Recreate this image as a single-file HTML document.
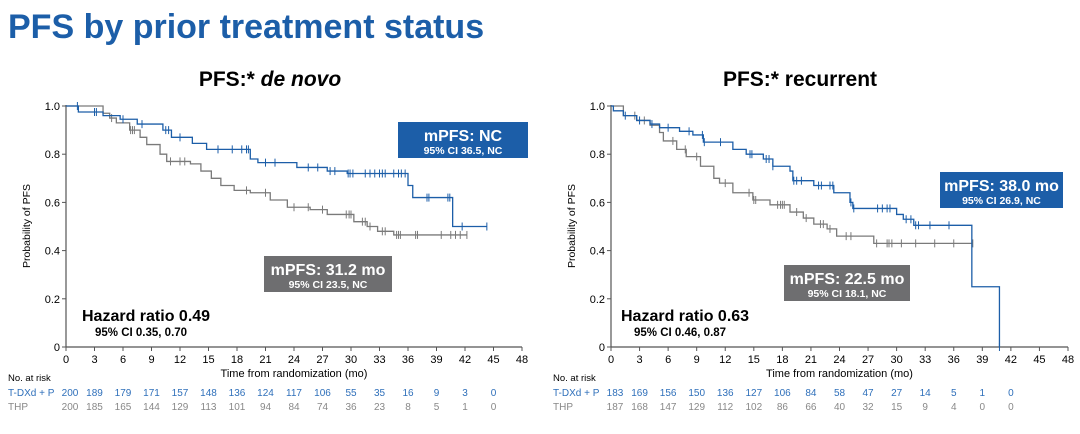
<!DOCTYPE html>
<html><head><meta charset="utf-8"><style>
body{margin:0;background:#fff;width:1080px;height:429px;overflow:hidden;font-family:"Liberation Sans",Arial,sans-serif}
</style></head><body>
<svg id="s" width="1080" height="429" xmlns="http://www.w3.org/2000/svg" font-family="Liberation Sans, Arial, sans-serif">
<text x="8" y="38" font-size="34" font-weight="bold" fill="#1c5ea8">PFS by prior treatment status</text>
<text x="270" y="86" font-size="21" font-weight="bold" text-anchor="middle">PFS:* <tspan font-style="italic">de novo</tspan></text>
<text x="800" y="86" font-size="21" font-weight="bold" text-anchor="middle">PFS:* recurrent</text>
</svg>
<script>
const s=document.getElementById('s');const NS='http://www.w3.org/2000/svg';
function el(t,a,txt){const e=document.createElementNS(NS,t);for(const k in a)e.setAttribute(k,a[k]);if(txt!=null)e.textContent=txt;s.appendChild(e);return e;}
const Y0=347,YS=241;
function chart(x0,x48,risk,blue,gray,bc,gc,boxes,hr,hrx,nax){
 const sx=m=>x0+(x48-x0)*m/48, sy=p=>Y0-YS*p;
 el('text',{x:x0-36,y:226,'font-size':10.5,'text-anchor':'middle',transform:`rotate(-90 ${x0-36} 226)`},'Probability of PFS');
 el('line',{x1:x0,y1:sy(1.0)-1,x2:x0,y2:Y0,stroke:'#555','stroke-width':1.2});
 el('line',{x1:x0,y1:Y0,x2:x48,y2:Y0,stroke:'#555','stroke-width':1.2});
 [0,.2,.4,.6,.8,1].forEach(p=>{el('line',{x1:x0-4,y1:sy(p),x2:x0,y2:sy(p),stroke:'#555'});
  el('text',{x:x0-6,y:sy(p)+4,'font-size':11,'text-anchor':'end'},p==0?'0':p.toFixed(1));});
 for(let m=0;m<=48;m+=3){el('line',{x1:sx(m),y1:Y0,x2:sx(m),y2:Y0+4,stroke:'#555'});
  el('text',{x:sx(m),y:Y0+16,'font-size':11,'text-anchor':'middle'},m);}
 el('text',{x:(x0+x48)/2,y:Y0+30,'font-size':11,'text-anchor':'middle'},'Time from randomization (mo)');
 el('text',{x:nax,y:Y0+34,'font-size':9.5},'No. at risk');
 el('text',{x:nax,y:Y0+49,'font-size':10,fill:'#2e6fba'},'T-DXd + P');
 el('text',{x:nax,y:Y0+63,'font-size':10,fill:'#888'},'THP');
 risk[0].forEach((v,i)=>el('text',{x:sx(i*3)+(i==0?4:0),y:Y0+49,'font-size':10,fill:'#2e6fba','text-anchor':'middle'},v));
 risk[1].forEach((v,i)=>el('text',{x:sx(i*3)+(i==0?4:0),y:Y0+63,'font-size':10,fill:'#888','text-anchor':'middle'},v));
 function curve(pts,end,col,cens){let d=`M${sx(0)},${sy(1)}`;
  pts.forEach(([m,p])=>{d+=` H${sx(m)} V${sy(p)}`;});
  d+=` H${sx(end)}`;
  el('path',{d,fill:'none',stroke:col,'stroke-width':1.3});
  cens.concat([end]).forEach(m=>{let p=1;pts.forEach(([mm,pp])=>{if(mm<=m)p=pp;});
   el('line',{x1:sx(m),y1:sy(p)-4,x2:sx(m),y2:sy(p)+4,stroke:col,'stroke-width':1});});}
 curve(gray[0],gray[1],gc,gray[2]);curve(blue[0],blue[1],bc,blue[2]);
 boxes.forEach(b=>{el('rect',{x:b[0],y:b[1],width:b[2],height:b[3],fill:b[4]});
  el('text',{x:b[0]+b[2]/2,y:b[1]+19,'font-size':16,'font-weight':'bold',fill:'#fff','text-anchor':'middle'},b[5]);
  el('text',{x:b[0]+b[2]/2,y:b[1]+32,'font-size':10.5,'font-weight':'bold',fill:'#fff','text-anchor':'middle'},b[6]);});
 el('text',{x:hrx,y:321,'font-size':16,'font-weight':'bold'},'Hazard ratio '+hr[0]);
 el('text',{x:hrx+13,y:336,'font-size':11.5,'font-weight':'bold'},'95% CI '+hr[1]);
}
const BC='#1c5ea8',GC='#7a7a7a';
chart(66,522,[[200,189,179,171,157,148,136,124,117,106,55,35,16,9,3,0],[200,185,165,144,129,113,101,94,84,74,36,23,8,5,1,0]],
 [[[1.3,.975],[3.9,.96],[5.7,.945],[7.5,.925],[10.2,.9],[11.1,.87],[13.3,.845],[14.8,.82],[19.4,.78],[20.2,.765],[24.3,.745],[27.5,.73],[29.6,.72],[36,.67],[36.5,.62],[40.7,.5]],44.3,
  [1.2,3,3.2,6,8,10.5,10.8,12,16,17.5,18.5,19,19.2,21,22,25.5,26.5,27.8,28.3,29.7,29.9,30.2,31.5,32,32.5,33,33.3,33.6,34.5,35,35.3,35.7,38,38.2,40.2,40.4,41.7]],
 [[[3.9,.97],[4.6,.95],[5.3,.93],[6.7,.9],[7.8,.87],[8.5,.84],[9.9,.8],[10.6,.77],[13.1,.76],[14.2,.73],[15.3,.7],[16.3,.67],[17.7,.65],[19.4,.64],[21.5,.61],[23.3,.58],[25.7,.57],[27.5,.55],[30.3,.52],[31.7,.5],[32.8,.48],[34.5,.465]],42.2,
  [4.8,6.8,7,7.2,11,12,12.5,19,21,24,25.5,27,29.5,29.8,30,31.2,31.5,32,33.3,33.6,34.8,35,35.2,36.8,37,39.5,40.5,41,41.5]],
 BC,GC,[[398,122,130,36,BC,'mPFS: NC','95% CI 36.5, NC'],[264,256,128,36,'#6e6e70','mPFS: 31.2 mo','95% CI 23.5, NC']],['0.49','0.35, 0.70'],82,8);
chart(611,1068,[[183,169,156,150,136,127,106,84,58,47,27,14,5,1,0],[187,168,147,129,112,102,86,66,40,32,15,9,4,0,0]],
 [[[0.25,.98],[1.3,.96],[2.7,.94],[4.1,.925],[5.1,.91],[7.2,.895],[8.6,.88],[9.7,.85],[12.8,.82],[14.2,.8],[16,.78],[17,.75],[18.8,.73],[19.1,.69],[21.3,.67],[23.4,.64],[25.1,.6],[25.4,.575],[30,.55],[30.7,.53],[31.8,.505],[37.9,.25],[40.8,0]],40.8,
  [1.5,3,4.3,6,8.2,9.6,9.8,11.5,14.6,14.8,16.3,16.6,17,19.2,19.5,20,21.8,22.1,23,23.3,25.2,25.5,28,28.5,29,29.3,31,31.5,32,32.3,33.5,35.5]],
 [[[1.3,.96],[2.7,.94],[4.1,.92],[5.1,.89],[5.5,.855],[6.9,.82],[7.9,.79],[9.4,.75],[10.8,.7],[11.4,.68],[12.8,.64],[14.9,.61],[16.7,.59],[18.8,.56],[20.2,.535],[21.3,.51],[22.7,.49],[23.7,.46],[27.6,.43]],38,
  [2.5,3.5,6.5,7.8,9,12,14.5,15,15.2,17.5,17.8,18,18.2,19.5,20.5,22,22.3,23,24.7,25.2,27.9,29,29.2,29.5,30.5,32,34,36]],
 BC,GC,[[940,172,123,36,BC,'mPFS: 38.0 mo','95% CI 26.9, NC'],[784,265,126,36,'#6e6e70','mPFS: 22.5 mo','95% CI 18.1, NC']],['0.63','0.46, 0.87'],621,553);
</script>
</body></html>
